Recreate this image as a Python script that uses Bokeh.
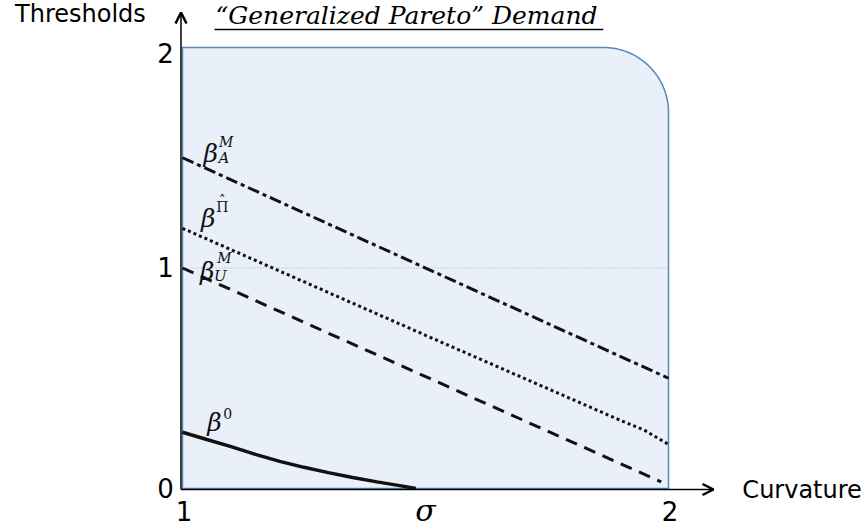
import numpy as np
from bokeh.plotting import figure
from bokeh.models import Arrow, OpenHead
from bokeh.core.properties import value
from bokeh.embed import file_html
from bokeh.resources import INLINE

# ---- data -------------------------------------------------------------
sigma_line = [1.0, 2.0]
beta_AM = [1.5, 0.5]                     # dash-dot threshold

beta_Pi_x = [1.0, 1.5, 1.9, 1.95, 2.0]   # dotted threshold
beta_Pi = [1.18, 0.695, 0.31, 0.265, 0.20]

beta_UM_x = [1.0, 1.985]                 # dashed threshold
beta_UM = [1.0, 0.03]

beta0_x = [1.0, 1.05, 1.1, 1.15, 1.2, 1.25, 1.3, 1.35, 1.4, 1.45, 1.48]  # solid threshold
beta0 = [0.255, 0.222, 0.19, 0.155, 0.123, 0.096, 0.072, 0.05, 0.03, 0.012, 0.0]

y_ticks = [0, 1, 2]
y_tick_labels = ["0", "1", "2"]
x_ticks = [1, 2]
x_tick_labels = ["1", "2"]
region_x = [1.0, 2.0]
region_y = [0.0, 2.0]

# ---- canvas -----------------------------------------------------------
W, H = 865, 528
PX_X = 486.0    # pixels per unit of sigma
PX_Y = 220.5    # pixels per unit of threshold
X0, Y0 = 182.0, 488.0  # pixel position of (1, 0)

p = figure(width=W, height=H, output_backend="svg", toolbar_location=None,
           x_axis_type=None, y_axis_type=None,
           x_range=(1 - X0 / PX_X, 1 + (W - X0) / PX_X),
           y_range=(-(H - Y0) / PX_Y, Y0 / PX_Y),
           min_border=0, outline_line_color=None,
           background_fill_color="white", border_fill_color="white")
p.grid.visible = False

# ---- shaded region with a rounded top-right corner --------------------
r_px = 65.0
rx, ry = r_px / PX_X, r_px / PX_Y
t = np.linspace(0, np.pi / 2, 40)
cx, cy = region_x[1] - rx, region_y[1] - ry
xs = [region_x[0], region_x[0]] + list(cx + rx * np.cos(t)[::-1]) + [region_x[1]]
ys = [region_y[0], region_y[1]] + list(cy + ry * np.sin(t)[::-1]) + [region_y[0]]
p.patch(xs, ys, fill_color="#E9F0FA", line_color="#5A87B8", line_width=1.5)

# faint reference line at threshold 1
p.line(region_x, [1, 1], line_color="#9FB4CF", line_width=1, line_dash="1 2")

# ---- threshold curves -------------------------------------------------
p.line(sigma_line, beta_AM, line_color="#111111", line_width=3,
       line_dash="12 4 4 4")
p.line(beta_Pi_x, beta_Pi, line_color="#111111", line_width=3,
       line_dash="3 3")
p.line(beta_UM_x, beta_UM, line_color="#111111", line_width=3,
       line_dash="12 8")
p.line(beta0_x, beta0, line_color="#111111", line_width=3.5)

# ---- axes with arrow heads --------------------------------------------
ax_y = -1.0 / PX_Y
ax_x = 1 - 1.5 / PX_X
p.add_layout(Arrow(x_start=ax_x, y_start=ax_y, x_end=ax_x, y_end=(Y0 - 12) / PX_Y,
                   line_color="black", line_width=1.5,
                   end=OpenHead(size=11, line_width=2.5, line_color="black")))
p.add_layout(Arrow(x_start=ax_x, y_start=ax_y, x_end=1 + (713 - X0) / PX_X, y_end=ax_y,
                   line_color="black", line_width=1.5,
                   end=OpenHead(size=11, line_width=2.5, line_color="black")))

sans = value("DejaVu Sans")
serif = value("DejaVu Serif")

# tick labels
y_lab_pos = [min(v, 1.972) + 0.004 for v in y_ticks]
p.text([0.965] * len(y_ticks), y_lab_pos, text=y_tick_labels, text_font=sans,
       text_font_size="26px", text_align="center", text_baseline="middle",
       text_color="black")
p.text([v + 0.003 for v in x_ticks], [-0.102] * len(x_ticks), text=x_tick_labels,
       text_font=sans, text_font_size="26px", text_align="center",
       text_baseline="middle", text_color="black")
p.text([1.5], [-0.10], text=["σ"], text_font=serif, text_font_style="italic",
       text_font_size="30px", text_align="center", text_baseline="middle",
       text_color="black")

# axis titles
p.text([0.790], [2.152], text=["Thresholds"], text_font=sans,
       text_font_size="24px", text_align="center", text_baseline="middle",
       text_color="black")
p.text([2.152], [-0.005], text=["Curvature"], text_font=sans,
       text_font_size="24px", text_align="left", text_baseline="middle",
       text_color="black")

# chart title, underlined
p.text([1.068], [2.146], text=["\u201cGeneralized Pareto\u201d Demand"],
       text_font=serif, text_font_style="italic", text_font_size="25px",
       text_align="left", text_baseline="middle", text_color="black")
p.line([1.066, 1.866], [2.082, 2.082], line_color="black", line_width=1.5)

# ---- curve labels -----------------------------------------------------
def beta_label(x, y, sup, sub=None, sup_style="italic", dx=0.031, dy=0.055,
               hat=False):
    p.text([x], [y], text=["β"], text_font=serif, text_font_style="italic",
           text_font_size="25px", text_align="center", text_baseline="middle",
           text_color="#111111")
    p.text([x + dx], [y + dy], text=[sup], text_font=serif,
           text_font_style=sup_style, text_font_size="14px",
           text_align="center", text_baseline="middle", text_color="#111111")
    if hat:
        p.text([x + dx], [y + dy + 0.028], text=["\u02c6"], text_font=serif,
               text_font_size="14px", text_align="center",
               text_baseline="middle", text_color="#111111")
    if sub:
        p.text([x + 0.027], [y - 0.022], text=[sub], text_font=serif,
               text_font_style="italic", text_font_size="15px",
               text_align="center", text_baseline="middle", text_color="#111111")

beta_label(1.058, 1.519, "M", "A", dx=0.032, dy=0.052)
beta_label(1.053, 1.224, "\u03a0", sup_style="normal", dx=0.029, dy=0.052,
           hat=True)
beta_label(1.051, 0.984, "M", "U", dx=0.035, dy=0.062)
beta_label(1.066, 0.300, "0", sup_style="normal", dx=0.027, dy=0.042)

open("out.html", "w").write(file_html(p, INLINE))
